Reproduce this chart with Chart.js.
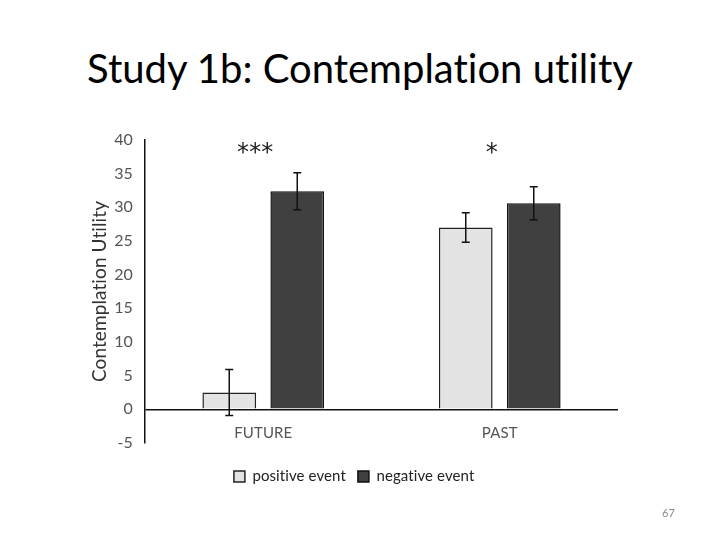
<!DOCTYPE html>
<html>
<head>
<meta charset="utf-8">
<script src="https://cdn.jsdelivr.net/npm/chart.js@4"></script>
<style>
  body { margin: 0; background: #fff; }
  #wrap { position: relative; width: 720px; height: 540px; }
  #title { position: absolute; left: 0; top: 44px; width: 720px; text-align: center;
           font-family: Lato, "Open Sans", sans-serif; font-size: 40px; color: #000;
           font-variant-ligatures: none; }
  #pageNo { position: absolute; left: 662px; top: 506px; font-family: Lato, sans-serif;
            font-size: 11px; color: #888; }
  canvas { position: absolute; left: 0; top: 0; }
</style>
</head>
<body>
<div id="wrap">
  <div id="title">Study 1b: Contemplation utility</div>
  <canvas id="chart" width="720" height="540"></canvas>
  <div id="pageNo">67</div>
</div>
<script>
const categories = ['FUTURE', 'PAST'];
const positiveValues = [2.5, 27.0];
const positiveErrors = [3.4, 2.2];
const negativeValues = [32.4, 30.6];
const negativeErrors = [2.75, 2.45];
const sigLabels = ['***', '*'];
const yTicks = [-5, 0, 5, 10, 15, 20, 25, 30, 35, 40];

// tiny letter spacing keeps Lato from joining "ti" into a ligature
const noLigatures = {
    id: 'noLigatures',
    beforeDraw(chart) { chart.ctx.letterSpacing = '0.1px'; }
};

const errorBars = {
    id: 'errorBars',
    afterDatasetsDraw(chart) {
        const ctx = chart.ctx;
        const y = chart.scales.y;
        const x = chart.scales.x;
        ctx.save();
        ctx.strokeStyle = '#111';
        ctx.lineWidth = 1.5;
        chart.data.datasets.forEach((ds, i) => {
            const meta = chart.getDatasetMeta(i);
            meta.data.forEach((bar, j) => {
                const top = y.getPixelForValue(ds.data[j] + ds.errors[j]);
                const bottom = y.getPixelForValue(ds.data[j] - ds.errors[j]);
                ctx.beginPath();
                ctx.moveTo(bar.x, top);
                ctx.lineTo(bar.x, bottom);
                ctx.moveTo(bar.x - 4, top);
                ctx.lineTo(bar.x + 4, top);
                ctx.moveTo(bar.x - 4, bottom);
                ctx.lineTo(bar.x + 4, bottom);
                ctx.stroke();
            });
        });
        // significance stars
        ctx.fillStyle = '#222';
        ctx.font = '24px "DejaVu Sans", sans-serif';
        ctx.textAlign = 'center';
        ctx.textBaseline = 'middle';
        sigLabels.forEach((s, j) => {
            ctx.fillText(s, x.getPixelForValue(j) - 8, y.getPixelForValue(37.9));
        });
        // category labels between the zero line and the bottom of the axis
        ctx.fillStyle = '#555';
        ctx.font = '15px Lato, sans-serif';
        categories.forEach((c, j) => {
            ctx.fillText(c, x.getPixelForValue(j), y.getPixelForValue(-3.6));
        });
        ctx.restore();
    }
};

new Chart(document.getElementById('chart').getContext('2d'), {
    type: 'bar',
    data: {
        labels: categories,
        datasets: [{
            label: 'positive event',
            data: positiveValues,
            errors: positiveErrors,
            backgroundColor: '#e3e3e3',
            borderColor: '#222',
            borderWidth: 1.5
        }, {
            label: 'negative event',
            data: negativeValues,
            errors: negativeErrors,
            backgroundColor: '#404040',
            borderColor: '#111',
            borderWidth: 1.5
        }]
    },
    options: {
        responsive: false,
        animation: false,
        layout: { padding: { left: 88, right: 102, top: 140, bottom: 46 } },
        categoryPercentage: 0.575,
        barPercentage: 0.79,
        plugins: {
            tooltip: { enabled: false },
            legend: {
                position: 'bottom',
                labels: {
                    boxWidth: 11,
                    boxHeight: 11,
                    padding: 12,
                    color: '#222',
                    font: { family: 'Lato, sans-serif', size: 15 }
                }
            }
        },
        scales: {
            x: {
                grid: { display: false },
                border: { display: false },
                ticks: { display: false },
                afterFit: (s) => { s.height = 14; }
            },
            y: {
                min: -5,
                max: 40,
                afterBuildTicks: (s) => { s.ticks = yTicks.map(v => ({ value: v })); },
                afterFit: (s) => { s.width = 57; },
                grid: {
                    drawTicks: false,
                    lineWidth: 1.5,
                    color: (c) => c.tick && c.tick.value === 0 ? '#111' : 'rgba(0,0,0,0)'
                },
                border: { display: true, color: '#111', width: 1.5 },
                ticks: {
                    padding: 12,
                    color: '#555',
                    font: { family: 'Lato, sans-serif', size: 16 }
                },
                title: {
                    display: true,
                    text: 'Contemplation Utility',
                    color: '#333',
                    padding: 0,
                    font: { family: 'Lato, sans-serif', size: 19 }
                }
            }
        }
    },
    plugins: [noLigatures, errorBars]
});
</script>
</body>
</html>
